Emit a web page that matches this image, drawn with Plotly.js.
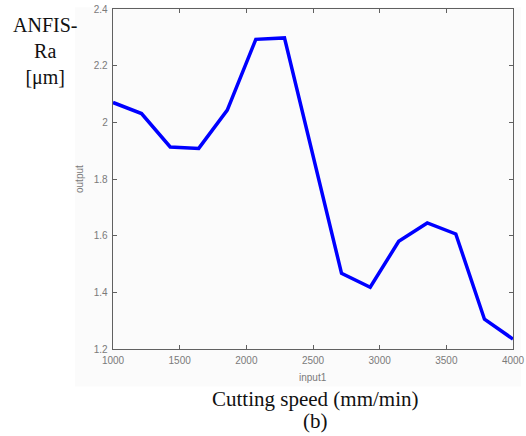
<!DOCTYPE html>
<html>
<head>
<meta charset="utf-8">
<script src="https://cdn.plot.ly/plotly-3.0.1.min.js"></script>
<style>html,body{margin:0;padding:0;background:#fff;}#chart{width:526px;height:436px;}</style>
</head>
<body>
<div id="chart"></div>
<script>
var cuttingSpeed = [1000, 1214, 1429, 1643, 1857, 2071, 2286, 2500, 2714, 2929, 3143, 3357, 3571, 3786, 4000];
var anfisRa = [2.070, 2.031, 1.913, 1.908, 2.043, 2.293, 2.298, 1.880, 1.467, 1.418, 1.580, 1.645, 1.606, 1.305, 1.235];
var xTicks = [1000, 1500, 2000, 2500, 3000, 3500, 4000];
var yTicks = [1.2, 1.4, 1.6, 1.8, 2, 2.2, 2.4];

var trace = {
  x: cuttingSpeed, y: anfisRa, type: 'scatter', mode: 'lines',
  line: {color: '#0000ff', width: 3.5}, hoverinfo: 'skip'
};

var axisCommon = {
  showline: true, linecolor: '#606060', linewidth: 1.3, mirror: 'ticks',
  ticks: 'inside', ticklen: 4, tickcolor: '#606060', tickwidth: 1,
  showgrid: false, zeroline: false,
  tickfont: {family: 'Liberation Sans, Arial', size: 10, color: '#7a7a7a'}
};

var layout = {
  width: 526, height: 436,
  margin: {l: 113, r: 13, t: 9, b: 87},
  paper_bgcolor: '#ffffff', plot_bgcolor: '#ffffff',
  showlegend: false,
  xaxis: Object.assign({}, axisCommon, {range: [1000, 4000], tickvals: xTicks, ticktext: xTicks.map(String), ticklabelstandoff: 2}),
  yaxis: Object.assign({}, axisCommon, {range: [1.2, 2.4], tickvals: yTicks, ticktext: yTicks.map(String), ticklabelstandoff: 2}),
  shapes: [{type: 'rect', xref: 'paper', yref: 'paper', layer: 'below',
    x0: -0.095, x1: 1.02, y0: -0.11, y1: 1.005,
    fillcolor: '#fbfbfb', line: {width: 0}}],
  annotations: [
    {text: 'output', xref: 'paper', yref: 'paper', x: -0.085, y: 0.5, textangle: -90, showarrow: false,
     xanchor: 'center', yanchor: 'middle', font: {family: 'Liberation Sans, Arial', size: 10, color: '#7a7a7a'}},
    {text: 'input1', xref: 'paper', yref: 'paper', x: 0.5, y: -0.085, showarrow: false,
     xanchor: 'center', yanchor: 'middle', font: {family: 'Liberation Sans, Arial', size: 10, color: '#7a7a7a'}},
    {text: 'Cutting speed (mm/min)', xref: 'paper', yref: 'paper', x: 0.505, y: -0.147, showarrow: false,
     xanchor: 'center', yanchor: 'middle', font: {family: 'Liberation Serif, Times New Roman', size: 21, color: '#111'}},
    {text: '(b)', xref: 'paper', yref: 'paper', x: 0.505, y: -0.212, showarrow: false,
     xanchor: 'center', yanchor: 'middle', font: {family: 'Liberation Serif, Times New Roman', size: 21, color: '#111'}},
    {text: 'ANFIS-<br>Ra<br>[μm]', xref: 'paper', yref: 'paper', x: -0.17, y: 0.875, showarrow: false,
     xanchor: 'center', yanchor: 'middle', align: 'center',
     font: {family: 'Liberation Serif, Times New Roman', size: 20, color: '#111'}}
  ]
};

Plotly.newPlot('chart', [trace], layout, {staticPlot: true, displayModeBar: false});
</script>
</body>
</html>
